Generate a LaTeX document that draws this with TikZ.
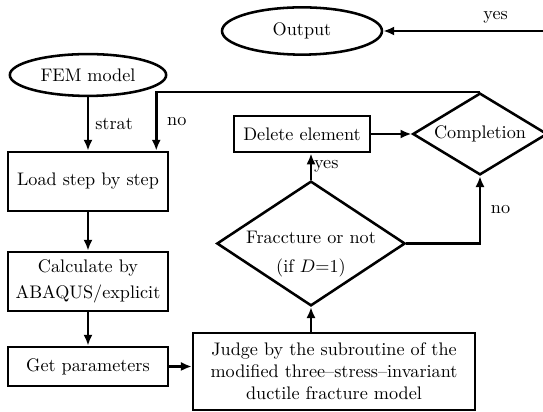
\documentclass[tikz,border=0pt]{standalone}
\usetikzlibrary{shapes.geometric,arrows.meta,calc}

\tikzset{
  box/.style={draw, line width=1.4pt, rectangle, align=center, inner sep=2pt},
  term/.style={draw, line width=1.4pt, ellipse, inner sep=0pt},
  decision/.style={draw, line width=1.4pt, diamond, align=center, inner sep=0pt},
  arrow/.style={line width=1.4pt, -{Latex[length=6pt,width=5pt]}}
}

\begin{document}
\begin{tikzpicture}[x=0.55pt,y=-0.55pt]

\useasboundingbox (0,0) rectangle (543,412);

\node[term, minimum width=88pt, minimum height=26pt] (output) at (302,31) {Output};
\node[term, minimum width=86pt, minimum height=23pt] (fem) at (88,75) {FEM model};

\node[box, minimum width=88pt, minimum height=32.5pt] (load) at (88,181.5) {Load step by step};
\node[box, minimum width=88pt, minimum height=32.5pt] (calc) at (88,281.5) {Calculate by\\[2pt]ABAQUS/explicit};
\node[box, minimum width=88pt, minimum height=21.5pt] (param) at (88,366.5) {Get parameters};
\node[box, minimum width=155pt, minimum height=42.5pt] (judge) at (334,371.5)
  {Judge by the subroutine of the\\modified three--stress--invariant\\ductile fracture model};

\node[decision, inner xsep=-5pt, shape aspect=1.51, minimum width=103pt, minimum height=68pt] (frac) at (311,243.5)
  {\raisebox{-5.5pt}[\height][\depth]{\begin{tabular}{@{}c@{}}Fraccture or not\\[4pt](if $D$=1)\end{tabular}}};
\node[box, minimum width=75pt, minimum height=20pt] (del) at (302,134) {Delete element};
\node[decision, shape aspect=1.64, minimum width=74pt, minimum height=45pt] (compl) at (480,134) {Completion};

\draw[arrow] (fem) -- node[right] {strat} (load);
\draw[arrow] (compl.north) -| node[pos=0.75, right, xshift=2pt] {no} ($(load.north east)+(-13,0)$);
\draw[arrow] (load) -- (calc);
\draw[arrow] (calc) -- (param);
\draw[arrow] (param.east) -- (judge.west |- param.east);
\draw[arrow] (judge.north -| frac.south) -- (frac.south);
\draw[arrow] (frac.north) -- node[right, inner sep=1pt] {yes} (frac.north |- del.south);
\draw[arrow] (del) -- (compl);
\draw[arrow] (frac.east) -| node[pos=0.75, right, xshift=2pt] {no} (compl.south);
\draw[arrow] (compl.east) |- node[pos=0.66, above] {yes} (output.east);

\end{tikzpicture}
\end{document}
